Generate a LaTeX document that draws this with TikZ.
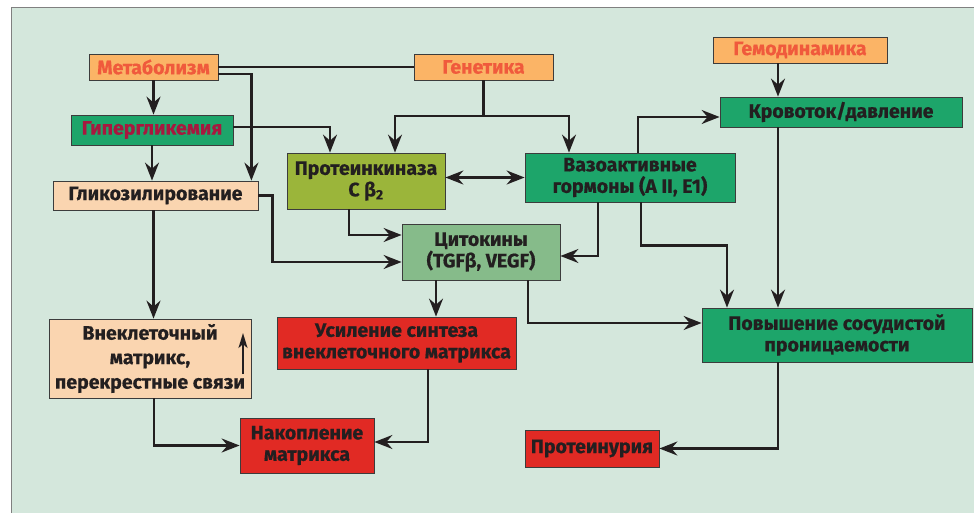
\documentclass[tikz,border=0pt]{standalone}
\usepackage{fontspec}
\setmainfont{Fira Sans}[BoldFont={Fira Sans Bold},BoldFeatures={FakeBold=0.6}]
\usetikzlibrary{arrows.meta,calc}
\definecolor{bgc}{HTML}{D4E7DC}
\definecolor{orf}{HTML}{FBB466}
\definecolor{ort}{HTML}{F05A3C}
\definecolor{grf}{HTML}{1DA56A}
\definecolor{hypt}{HTML}{A8183F}
\definecolor{olf}{HTML}{9BB53A}
\definecolor{cyf}{HTML}{86BB8A}
\definecolor{rdf}{HTML}{E12A24}
\definecolor{pcf}{HTML}{FAD5B0}
\definecolor{linec}{HTML}{231F20}
\definecolor{bordc}{HTML}{3C3C3C}
\tikzset{
  box/.style={draw=bordc, line width=0.8pt, inner sep=0pt, align=center,
    font=\bfseries\fontsize{19.5}{21.5}\selectfont, text=linec},
  arr/.style={draw=linec, line width=2.2pt,
    -{Stealth[length=18pt,width=14pt,inset=6pt]}},
  smallarr/.style={draw=linec, line width=2.2pt,
    -{Stealth[length=15pt,width=9pt,inset=4pt]}},
  dbl/.style={draw=linec, line width=2.2pt,
    {Stealth[length=18pt,width=14pt,inset=6pt]}-{Stealth[length=18pt,width=14pt,inset=6pt]}},
  ln/.style={draw=linec, line width=2.2pt},
}
\begin{document}
\begin{tikzpicture}[x=1pt,y=-1pt]
\useasboundingbox (0,0) rectangle (974,513);
\fill[white] (0,0) rectangle (974,513);
\fill[bgc] (11,8) rectangle (974,513);
\draw[gray, line width=1pt] (11,513) -- (11,8) -- (974,8);

\node[box, fill=orf, text=ort, minimum width=129pt, minimum height=26pt] (met) at (153.5,67) {Метаболизм};
\node[box, fill=orf, text=ort, minimum width=139pt, minimum height=26pt] (gen) at (483.5,67) {Генетика};
\node[box, fill=orf, text=ort, minimum width=174pt, minimum height=26pt] (gemo) at (800,50) {Гемодинамика};
\node[box, fill=grf, text=hypt, minimum width=162pt, minimum height=30pt] (hyp) at (152,130) {Гипергликемия};
\node[box, fill=pcf, minimum width=205pt, minimum height=29pt] (gly) at (155.5,195.5) {Гликозилирование};
\node[box, fill=olf, minimum width=158pt, minimum height=56pt] (pkc) at (366,181) {Протеинкиназа\\C β\textsubscript{2}};
\node[box, fill=grf, minimum width=210pt, minimum height=49pt] (vaso) at (630,177.5) {Вазоактивные\\гормоны (A II, E1)};
\node[box, fill=grf, minimum width=242pt, minimum height=30pt] (krov) at (841,112) {Кровоток/давление};
\node[box, fill=cyf, minimum width=158pt, minimum height=56pt] (cyt) at (481,252) {Цитокины\\(TGFβ, VEGF)};
\node[box, fill=pcf, minimum width=202pt, minimum height=79pt, font=\bfseries\fontsize{19.5}{24.5}\selectfont] (ecm) at (150,358.5) {Внеклеточный\\матрикс,\\перекрестные связи};
\node[box, fill=rdf, minimum width=239pt, minimum height=52pt] (usil) at (396.5,343) {Усиление синтеза\\внеклеточного матрикса};
\node[box, fill=rdf, minimum width=134pt, minimum height=55pt] (nak) at (307,445.5) {Накопление\\матрикса};
\node[box, fill=grf, minimum width=270pt, minimum height=54pt] (perm) at (837,335) {Повышение сосудистой\\проницаемости};
\node[box, fill=rdf, minimum width=134pt, minimum height=37pt] (prot) at (592,448.5) {Протеинурия};

% connectors
\draw[ln] (met.east) -- (gen.west);
\draw[arr] (met.south) -- (met.south |- hyp.north);
\draw[arr] ([yshift=-7pt]met.east) -| ([xshift=-7pt]gly.north east);
\draw[arr] ([yshift=3pt]hyp.east) -| ([xshift=-36pt]pkc.north);
\coordinate (gj) at ([yshift=-36pt]gen.south);
\draw[ln] (gen.south) -- (gj);
\draw[arr] (gj) -| ([xshift=29pt]pkc.north);
\draw[arr] (gj) -| ([xshift=-61pt]vaso.north);
\draw[arr] ([xshift=-22pt]gemo.south) -- ([xshift=-22pt]gemo.south |- krov.north);
\draw[arr] ([xshift=8pt]vaso.north) |- ([yshift=-5pt]krov.west);
\draw[dbl] (pkc.east |- vaso.west) -- (vaso.west);
\draw[arr] (hyp.south) -- (hyp.south |- gly.north);
\draw[arr] (gly.east) -- ++(14,0) |- ([yshift=-10pt]cyt.west);
\draw[arr] ([xshift=-17pt]pkc.south) |- ([yshift=17pt]cyt.west);
\draw[arr] ([xshift=-32pt]vaso.south) |- ([yshift=-4pt]cyt.east);
\draw[arr] ([xshift=11pt]vaso.south) -- ++(0,43) -| ([xshift=-110pt]perm.north);
\draw[arr] ([xshift=-63pt]krov.south) -- ([xshift=-63pt]krov.south |- perm.north);
\draw[arr] ([xshift=-45pt]cyt.south) -- ([xshift=-45pt]cyt.south |- usil.north);
\draw[arr] ([xshift=47pt]cyt.south) |- ([yshift=12pt]perm.west);
\draw[arr] ([xshift=-2pt]gly.south) -- ([xshift=-2pt]gly.south |- ecm.north);
\draw[arr] ([xshift=4pt]ecm.south) |- (nak.west);
\draw[arr] ([xshift=31.5pt]usil.south) |- ([yshift=3.5pt]nak.east);
\draw[arr] ([xshift=-59pt]perm.south) |- (prot.east);
\draw[smallarr] ([xshift=93pt,yshift=-15.5pt]ecm.center) -- ([xshift=93pt,yshift=25.5pt]ecm.center);
\end{tikzpicture}
\end{document}
